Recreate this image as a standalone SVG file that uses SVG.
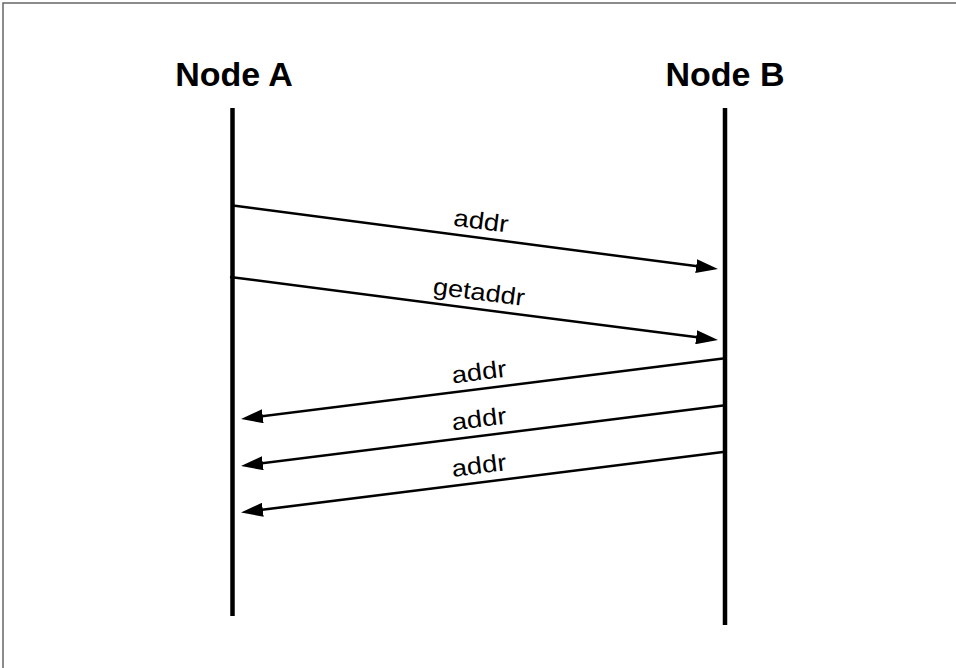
<svg xmlns="http://www.w3.org/2000/svg" width="956" height="668" viewBox="0 0 956 668">
<style>
.title{font-family:"Liberation Sans",Arial,sans-serif;font-weight:bold;font-size:34px;fill:#000;text-anchor:middle}
.lbl{font-family:"Liberation Sans",Arial,sans-serif;font-size:24px;fill:#000;text-anchor:middle}
.life{stroke:#000;stroke-width:4.5;fill:none}
.msg{stroke:#000;stroke-width:2.5;fill:none;marker-end:url(#ah)}
</style>
<defs>
<marker id="ah" markerUnits="userSpaceOnUse" markerWidth="22" markerHeight="14" refX="11" refY="7" orient="auto" viewBox="0 0 22 14">
<path d="M0,0 L22,7 L0,14 z" fill="#000"/>
</marker>
</defs>
<rect width="956" height="668" fill="#fff"/>
<path d="M3,668 V3 H956" stroke="#666" stroke-width="1.5" fill="none"/>
<g id="nodeA">
<text class="title" x="234" y="86">Node A</text>
<line class="life" x1="232.5" y1="108" x2="232.5" y2="616"/>
</g>
<g id="nodeB">
<text class="title" x="725" y="86">Node B</text>
<line class="life" x1="725" y1="108" x2="725" y2="625"/>
</g>
<g id="connectors">
<line class="msg" x1="233" y1="205.5" x2="707.1" y2="267.6"/>
<text class="lbl" x="480" y="229" transform="rotate(7.4 480 229)" textLength="55" lengthAdjust="spacingAndGlyphs">addr</text>
<line class="msg" x1="230" y1="277" x2="707.1" y2="338.6"/>
<text class="lbl" x="478" y="300" transform="rotate(7.3 478 300)" textLength="92" lengthAdjust="spacingAndGlyphs">getaddr</text>
<line class="msg" x1="723" y1="358.5" x2="251.9" y2="417.6"/>
<text class="lbl" x="480" y="380" transform="rotate(-7.1 480 380)" textLength="55" lengthAdjust="spacingAndGlyphs">addr</text>
<line class="msg" x1="723" y1="405.5" x2="251.9" y2="464.6"/>
<text class="lbl" x="480" y="427" transform="rotate(-7.1 480 427)" textLength="55" lengthAdjust="spacingAndGlyphs">addr</text>
<line class="msg" x1="723" y1="452" x2="251.9" y2="511.1"/>
<text class="lbl" x="480" y="473.5" transform="rotate(-7.1 480 473.5)" textLength="55" lengthAdjust="spacingAndGlyphs">addr</text>
</g>
</svg>
